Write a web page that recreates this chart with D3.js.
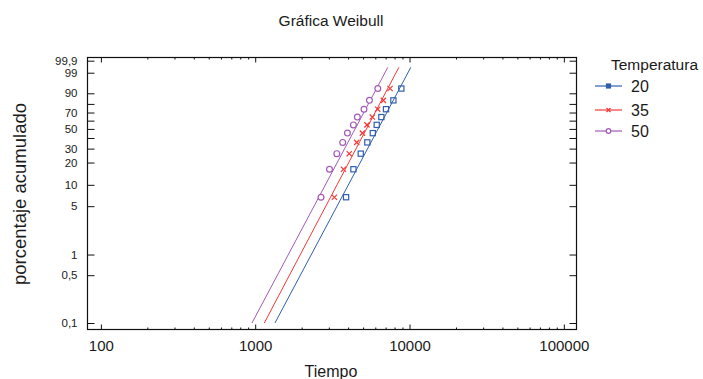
<!DOCTYPE html>
<html>
<head>
<meta charset="utf-8">
<script src="https://cdn.jsdelivr.net/npm/d3@7"></script>
<style>
  body { margin: 0; background: #fff; }
  text { font-family: "Liberation Sans", Arial, sans-serif; fill: #1a1a1a; }
</style>
</head>
<body>
<svg id="chart" width="703" height="379"></svg>
<script>
// data
const temps = ["20", "35", "50"];
const colors = ["#2f5fae", "#f53838", "#a35ab6"];
const pct = [6.7, 16.3, 26.0, 35.6, 45.2, 54.8, 64.4, 74.0, 83.7, 93.3];
const times20 = [3880, 4330, 4830, 5330, 5780, 6130, 6570, 7040, 7860, 8850];
const times35 = [3260, 3730, 4070, 4550, 4950, 5300, 5740, 6220, 6770, 7480];
const times50 = [2670, 3030, 3380, 3690, 3960, 4330, 4590, 5070, 5500, 6230];
const shapes = [4.25, 4.29, 4.25];
const scales = [6820, 5730, 4840];
const lineRange = [0.1, 99.6];
const yTicks = [0.1, 0.5, 1, 5, 10, 20, 30, 50, 70, 90, 99, 99.9];
const yMinor = [40, 60, 80];
const xTicks = [100, 1000, 10000, 100000];

const series = [times20, times35, times50];

const svg = d3.select("#chart");
const plotLeft = 87.5, plotRight = 576.5, plotTop = 57.5, plotBottom = 329.5;

// weibull probability transform
function wb(p) { return Math.log(-Math.log(1 - p / 100)); }

const x = d3.scaleLog().domain([81.9, 120800]).range([plotLeft, plotRight]);
const y = d3.scaleLinear().domain([-7.126, 2.040]).range([plotBottom, plotTop]);

// minor x ticks
let xMinor = [];
for (let d = 100; d < 100000; d *= 10) {
  for (let k = 2; k <= 9; k++) xMinor.push(d * k);
}

const fmt = function (w) {
  const p = yTicks.find(function (t) { return Math.abs(wb(t) - w) < 1e-9; });
  return String(p).replace(".", ",");
};

// bottom axis
svg.append("g")
  .attr("transform", "translate(0," + plotBottom + ")")
  .call(d3.axisBottom(x).tickValues(xTicks).tickSize(-5).tickPadding(11).tickFormat(d3.format("d")))
  .call(g => g.select(".domain").remove())
  .call(g => g.selectAll("text").style("font-size", "15px").attr("fill", "#1a1a1a"));
svg.append("g")
  .attr("transform", "translate(0," + plotBottom + ")")
  .call(d3.axisBottom(x).tickValues(xMinor).tickSize(-2).tickFormat(""))
  .call(g => g.select(".domain").remove());

// top axis
svg.append("g")
  .attr("transform", "translate(0," + plotTop + ")")
  .call(d3.axisTop(x).tickValues(xTicks).tickSize(-5).tickFormat(""))
  .call(g => g.select(".domain").remove());
svg.append("g")
  .attr("transform", "translate(0," + plotTop + ")")
  .call(d3.axisTop(x).tickValues(xMinor).tickSize(-2).tickFormat(""))
  .call(g => g.select(".domain").remove());

// left axis
svg.append("g")
  .attr("transform", "translate(" + plotLeft + ",0)")
  .call(d3.axisLeft(y).tickValues(yTicks.map(wb)).tickSize(-7).tickPadding(10).tickFormat(fmt))
  .call(g => g.select(".domain").remove())
  .call(g => g.selectAll("text").style("font-size", "11.5px").attr("fill", "#1a1a1a"));
svg.append("g")
  .attr("transform", "translate(" + plotLeft + ",0)")
  .call(d3.axisLeft(y).tickValues(yMinor.map(wb)).tickSize(-7).tickFormat(""))
  .call(g => g.select(".domain").remove());

// right axis
svg.append("g")
  .attr("transform", "translate(" + plotRight + ",0)")
  .call(d3.axisRight(y).tickValues(yTicks.concat(yMinor).map(wb)).tickSize(-7).tickFormat(""))
  .call(g => g.select(".domain").remove());

svg.selectAll(".tick line").attr("stroke", "#111");

// frame
svg.append("rect")
  .attr("x", plotLeft).attr("y", plotTop)
  .attr("width", plotRight - plotLeft).attr("height", plotBottom - plotTop)
  .attr("fill", "none").attr("stroke", "#111").attr("stroke-width", 1.2);

// fitted lines
const plot = svg.append("g");
series.forEach(function (times, i) {
  const ends = lineRange.map(function (p) {
    const t = scales[i] * Math.exp(wb(p) / shapes[i]);
    return [x(t), y(wb(p))];
  });
  plot.append("path")
    .attr("d", d3.line()(ends))
    .attr("stroke", colors[i])
    .attr("stroke-width", 1)
    .attr("fill", "none");
});

// markers
function drawMarker(g, i, cx, cy, small) {
  const s = small ? 2 : 2.6;
  if (i === 0) {
    g.append("rect")
      .attr("x", cx - s).attr("y", cy - s)
      .attr("width", 2 * s).attr("height", 2 * s)
      .attr("fill", small ? colors[i] : "none")
      .attr("stroke", colors[i]).attr("stroke-width", 1.2);
  } else if (i === 1) {
    g.append("path")
      .attr("d", "M" + (cx - s) + "," + (cy - s) + "L" + (cx + s) + "," + (cy + s) +
        "M" + (cx - s) + "," + (cy + s) + "L" + (cx + s) + "," + (cy - s))
      .attr("stroke", colors[i]).attr("stroke-width", 1.2);
  } else {
    g.append("circle")
      .attr("cx", cx).attr("cy", cy).attr("r", s + 0.3)
      .attr("fill", "#fff")
      .attr("stroke", colors[i]).attr("stroke-width", 1.2);
  }
}

series.forEach(function (times, i) {
  times.forEach(function (t, j) {
    drawMarker(plot, i, x(t), y(wb(pct[j])), false);
  });
});

// title and axis labels
svg.append("text")
  .attr("x", 331).attr("y", 26)
  .attr("text-anchor", "middle")
  .style("font-size", "15.5px")
  .text("Gráfica Weibull");

svg.append("text")
  .attr("x", 331).attr("y", 377)
  .attr("text-anchor", "middle")
  .style("font-size", "16px")
  .text("Tiempo");

svg.append("text")
  .attr("transform", "translate(26," + 194 + ") rotate(-90)")
  .attr("text-anchor", "middle")
  .style("font-size", "18.5px")
  .text("porcentaje acumulado");

// legend
const legend = svg.append("g");
legend.append("text")
  .attr("x", 611).attr("y", 70)
  .style("font-size", "15.5px")
  .text("Temperatura");
const legendY = [86, 110, 131];
temps.forEach(function (name, i) {
  legend.append("line")
    .attr("x1", 595).attr("x2", 622)
    .attr("y1", legendY[i]).attr("y2", legendY[i])
    .attr("stroke", colors[i]).attr("stroke-width", 1.2);
  drawMarker(legend, i, 608.5, legendY[i], true);
  legend.append("text")
    .attr("x", 631).attr("y", legendY[i] + 5.5)
    .style("font-size", "16px")
    .text(name);
});
</script>
</body>
</html>
